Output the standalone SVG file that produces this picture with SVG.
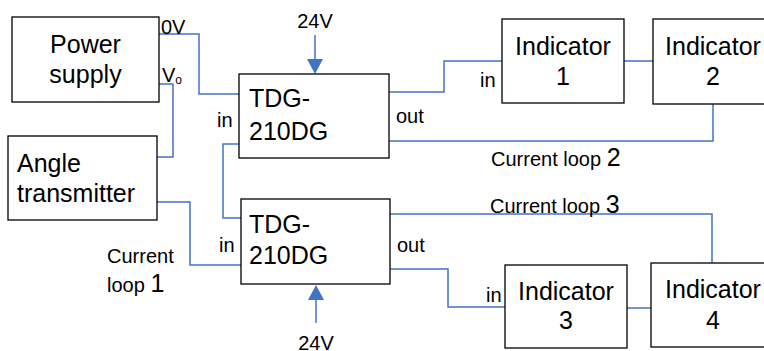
<svg xmlns="http://www.w3.org/2000/svg" width="764" height="351" viewBox="0 0 764 351">
<defs>
<style>
.box{fill:#fff;stroke:#000;stroke-width:1.3}
.w{fill:none;stroke:#4472C4;stroke-width:1.5}
.ah{fill:#4472C4;stroke:none}
.big{font-family:"Liberation Sans",Arial,sans-serif;font-size:25px;fill:#000}
.sm{font-family:"Liberation Sans",Arial,sans-serif;font-size:20px;fill:#000}
.m{text-anchor:middle}
</style>
</defs>
<rect width="764" height="351" fill="#fff"/>
<g id="connectors">
<polyline class="w" points="159,34 199,34 199,94 239,94"/>
<polyline class="w" points="159,84 173,84 173,157 157,157"/>
<polyline class="w" points="389,92 444,92 444,61 502,61"/>
<polyline class="w" points="624,61 653,61"/>
<polyline class="w" points="389,141 713,141 713,104"/>
<polyline class="w" points="239,144 223,144 223,218 241,218"/>
<polyline class="w" points="157,202 190,202 190,265 241,265"/>
<polyline class="w" points="390,214 712,214 712,263"/>
<polyline class="w" points="390,269 448,269 448,307 505,307"/>
<polyline class="w" points="627,308 651,308"/>
<line class="w" x1="315" y1="35" x2="315" y2="60"/>
<polygon class="ah" points="307,59 323,59 315,74"/>
<line class="w" x1="316" y1="323" x2="316" y2="299"/>
<polygon class="ah" points="308,300 324,300 316,285"/>
</g>
<g id="power-supply">
<rect class="box" x="12" y="17" width="147" height="85"/>
<text class="big m" x="85.5" y="53">Power</text>
<text class="big m" x="85.5" y="83">supply</text>
<text class="sm" x="161" y="34">0V</text>
<text class="sm" x="162" y="82">V<tspan font-size="12" dy="2">o</tspan></text>
</g>
<g id="angle-transmitter">
<rect class="box" x="8" y="136" width="149" height="84"/>
<text class="big" x="17" y="172">Angle</text>
<text class="big" x="17" y="202">transmitter</text>
</g>
<g id="tdg1">
<rect class="box" x="239" y="74" width="150" height="84"/>
<text class="big" x="249" y="107">TDG-</text>
<text class="big" x="249" y="140">210DG</text>
<text class="sm m" x="315" y="28">24V</text>
<text class="sm" x="217" y="127">in</text>
<text class="sm" x="396" y="123">out</text>
</g>
<g id="tdg2">
<rect class="box" x="241" y="199" width="149" height="85"/>
<text class="big" x="249" y="233">TDG-</text>
<text class="big" x="249" y="264">210DG</text>
<text class="sm m" x="316" y="350">24V</text>
<text class="sm" x="219" y="252">in</text>
<text class="sm" x="397" y="252">out</text>
</g>
<g id="indicator1">
<rect class="box" x="502" y="19" width="122" height="84"/>
<text class="big m" x="563" y="55">Indicator</text>
<text class="big m" x="563" y="85">1</text>
<text class="sm" x="480" y="87">in</text>
</g>
<g id="indicator2">
<rect class="box" x="653" y="19" width="122" height="85"/>
<text class="big m" x="713" y="55">Indicator</text>
<text class="big m" x="713" y="85">2</text>
</g>
<g id="indicator3">
<rect class="box" x="505" y="265" width="122" height="83"/>
<text class="big m" x="566" y="300">Indicator</text>
<text class="big m" x="566" y="329">3</text>
<text class="sm" x="486" y="302">in</text>
</g>
<g id="indicator4">
<rect class="box" x="651" y="263" width="124" height="84"/>
<text class="big m" x="713" y="298">Indicator</text>
<text class="big m" x="713" y="329">4</text>
</g>
<g id="labels">
<text class="sm" x="491" y="166">Current loop <tspan font-size="25">2</tspan></text>
<text class="sm" x="490" y="213">Current loop <tspan font-size="25">3</tspan></text>
<text class="sm" x="107" y="263">Current</text>
<text class="sm" x="107" y="292">loop <tspan font-size="25">1</tspan></text>
</g>
</svg>
